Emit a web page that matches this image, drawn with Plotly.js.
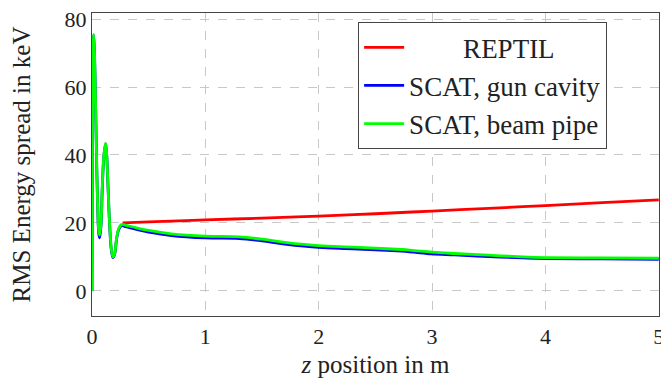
<!DOCTYPE html>
<html><head><meta charset="utf-8">
<script src="https://cdn.plot.ly/plotly-3.0.1.min.js"></script>
<style>
html,body{margin:0;padding:0;background:#fff}#c{width:661px;height:384px}
</style>
</head><body><div id="c"></div>
<script>
const zScat = [0,0.003,0.008,0.014,0.02,0.03,0.04,0.05,0.06,0.068,0.08,0.09,0.105,0.12,0.13,0.14,0.155,0.17,0.185,0.2,0.215,0.235,0.26,0.3,0.4,0.5,0.7,1.0,1.3,1.5,1.7,2.0,2.3,2.6,2.8,3.0,3.2,3.5,3.8,4.0,4.5,5.0];
const eBeamPipe = [0,30,65,75.5,72,58,40,25,17.5,16.4,20,30,40,43.5,40,32,20,12.5,10,11,15,18.3,19.5,19.3,18.5,17.8,16.8,16.1,15.9,15.2,14.3,13.3,12.9,12.4,12.0,11.4,11.0,10.5,10.0,9.8,9.7,9.6];
const eGunCavity = [0,30,65,75.3,71.8,57.5,39.5,24.5,16.8,15.6,19.5,29.5,39.8,43.3,39.8,31.8,19.8,12.2,9.8,10.8,14.8,18.0,19.2,18.9,18.0,17.3,16.3,15.6,15.4,14.7,13.8,12.8,12.4,11.9,11.5,10.9,10.6,10.1,9.7,9.5,9.4,9.3];
const zRep = [0.27,0.5,1.0,1.5,2.0,2.5,3.0,3.5,4.0,4.5,5.0];
const eRep = [20.0,20.3,20.9,21.4,22.0,22.7,23.5,24.3,25.1,26.0,26.8];
const names = ["\u00a0\u00a0\u00a0\u00a0\u00a0\u00a0\u00a0\u00a0REPTIL","SCAT, gun cavity","SCAT, beam pipe"];
const xTicks = [0,1,2,3,4,5];
const yTicks = [0,20,40,60,80];

const FONTFAM = "Liberation Serif";
const traces = [
  {x:zRep,y:eRep,name:names[0],mode:'lines',line:{color:'#ff0000',width:2.8,shape:'spline'}},
  {x:zScat,y:eGunCavity,name:names[1],mode:'lines',line:{color:'#0000ff',width:2.8,shape:'spline'}},
  {x:zScat,y:eBeamPipe,name:names[2],mode:'lines',line:{color:'#00ff00',width:2.8,shape:'spline'}}
];
function ax(extra){
  return Object.assign({showline:true,mirror:true,linecolor:'#444',linewidth:1.2,gridcolor:'#c8c8c8',griddash:'dash',gridwidth:1,zeroline:false,ticks:'',ticklabeloverflow:'allow',tickfont:{family:FONTFAM,size:22}},extra);
}
const layout = {
  width:661,height:384,margin:{l:92,r:2,t:13,b:68},
  paper_bgcolor:'#fff',plot_bgcolor:'#fff',
  font:{family:FONTFAM,size:22,color:'#222'},
  xaxis:ax({range:[0,5.002],tickvals:xTicks,title:{text:'<i>z</i> position in m',font:{family:FONTFAM,size:25},standoff:8}}),
  yaxis:ax({range:[-7.4,81.8],tickvals:yTicks,title:{text:'RMS Energy spread in keV',font:{family:FONTFAM,size:25},standoff:26}}),
  legend:{x:0.469,y:0.97,xanchor:'left',yanchor:'top',bgcolor:'#fff',bordercolor:'#444',borderwidth:1.2,font:{family:FONTFAM,size:27},tracegroupgap:0,itemwidth:40},
  showlegend:true
};
Plotly.newPlot('c',traces,layout,{staticPlot:true});
</script></body></html>
